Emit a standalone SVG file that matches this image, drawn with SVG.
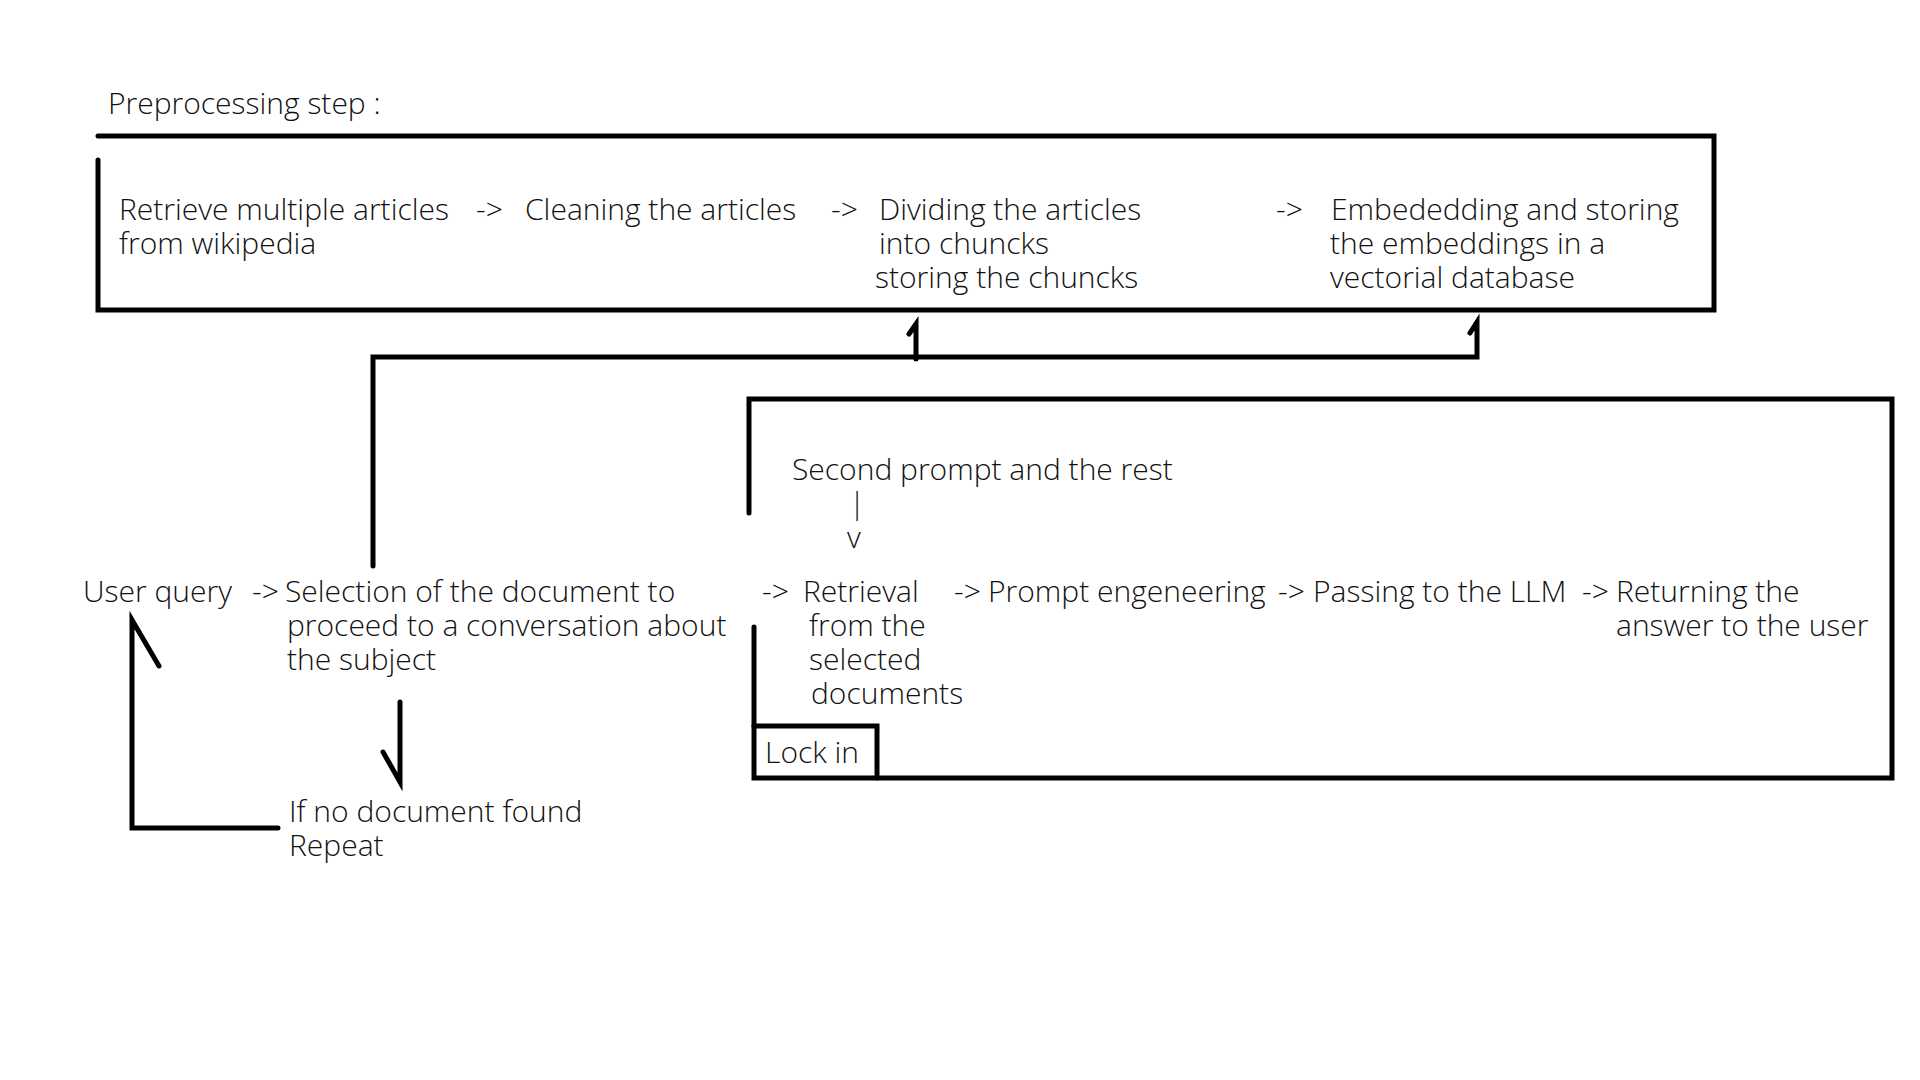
<svg xmlns="http://www.w3.org/2000/svg" width="1920" height="1080" viewBox="0 0 1920 1080">
<style>
text{font-family:"Open Sans","Noto Sans","Liberation Sans",sans-serif;font-size:30px;fill:#111;font-weight:300}
.ln{stroke:#000;stroke-width:5;fill:none;stroke-linecap:round;stroke-linejoin:miter}
</style>
<rect width="1920" height="1080" fill="#fff"/>
<text x="108" y="114">Preprocessing step :</text>
<g id="preprocessing-box">
<path class="ln" d="M98 136 H1714 V310 H98 V160"/>
</g>
<g id="retrieve">
<text x="119" y="220">Retrieve multiple articles</text>
<text x="119" y="254">from wikipedia</text>
</g>
<g id="cleaning"><text x="525" y="220">Cleaning the articles</text></g>
<g id="dividing">
<text x="879" y="220">Dividing the articles</text>
<text x="879" y="254">into chuncks</text>
<text x="875" y="288">storing the chuncks</text>
</g>
<g id="embedding">
<text x="1331" y="220">Embededding and storing</text>
<text x="1330" y="254">the embeddings in a</text>
<text x="1330" y="288">vectorial database</text>
</g>
<g id="user-query"><text x="83" y="602">User query</text></g>
<g id="selection">
<text x="285" y="602">Selection of the document to</text>
<text x="287" y="636">proceed to a conversation about</text>
<text x="287" y="670">the subject</text>
</g>
<g id="no-doc">
<text x="289" y="822">If no document found</text>
<text x="289" y="856">Repeat</text>
</g>
<g id="conversation-box">
<path class="ln" d="M749 513 V399 H1892 V778 H754 V627"/>
<path class="ln" d="M754 726 H877 V778"/>
<text x="765" y="763">Lock in</text>
<text x="792" y="480">Second prompt and the rest</text>
<text x="849" y="514">|</text>
<text x="847" y="548">v</text>
</g>
<g id="retrieval">
<text x="803" y="602">Retrieval</text>
<text x="809" y="636">from the</text>
<text x="809" y="670">selected</text>
<text x="811" y="704">documents</text>
</g>
<g id="prompt-eng"><text x="988" y="602">Prompt engeneering</text></g>
<g id="passing"><text x="1313" y="602">Passing to the LLM</text></g>
<g id="returning">
<text x="1616" y="602">Returning the</text>
<text x="1616" y="636">answer to the user</text>
</g>
<g id="connectors">
<text x="476" y="220">-&gt;</text>
<text x="831" y="220">-&gt;</text>
<text x="1276" y="220">-&gt;</text>
<text x="252" y="602">-&gt;</text>
<text x="762" y="602">-&gt;</text>
<text x="954" y="602">-&gt;</text>
<text x="1278" y="602">-&gt;</text>
<text x="1582" y="602">-&gt;</text>
<path class="ln" d="M373 566 V357 H1477 V322 L1470 333"/>
<path class="ln" d="M916 359 V324 L909 334"/>
<path class="ln" d="M400 702 V782 L383 752"/>
<path class="ln" d="M278 828 H132 V620 L159 666"/>
</g>
</svg>
